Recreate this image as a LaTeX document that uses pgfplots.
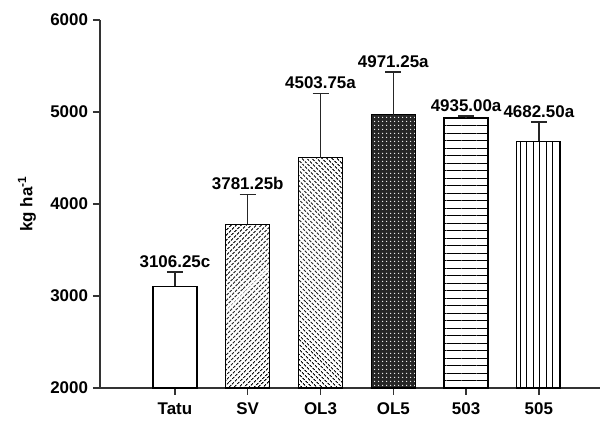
\documentclass[border=0pt]{standalone}
\usepackage{pgfplots}
\pgfplotsset{compat=1.18}
\usepackage{fontspec}
\setmainfont{Liberation Sans}
\usetikzlibrary{patterns,patterns.meta}

\newcommand{\chartfont}{\fontsize{17}{19}\selectfont\bfseries}

\pgfplotsset{
  yieldbar/.style={
    draw=black, line width=1.2bp,
    nodes near coords={\pgfmathprintnumber[fixed,fixed zerofill,precision=2]{\pgfplotspointmeta}#1},
    nodes near coords style={font=\chartfont, anchor=south, black, inner sep=2bp},
    error bars/y dir=plus,
    error bars/y explicit,
    error bars/error bar style={line width=1.4bp, black!85},
    error bars/error mark options={rotate=90, mark size=8bp, line width=1.4bp, black!85},
  },
}

\begin{document}
\begin{tikzpicture}
\useasboundingbox (-100bp,-33bp) rectangle (501bp,388bp);
\begin{axis}[
  scale only axis, width=500bp, height=368bp,
  xmin=-1.03, xmax=5.84, ymin=2000, ymax=6000,
  axis x line=bottom, axis y line=left,
  axis line style={-, line width=1.3bp, black!80},
  ytick={2000,3000,4000,5000,6000},
  xtick={0,...,5}, xticklabels={Tatu,SV,OL3,OL5,503,505},
  tick align=outside, major tick length=7bp,
  tick style={line width=1.3bp, black!80},
  /pgf/number format/assume math mode=true,
  /pgf/number format/1000 sep={},
  ticklabel style={font=\chartfont},
  xticklabel style={yshift=-4bp},
  yticklabel style={xshift=-1.5bp},
  ylabel={kg ha\textsuperscript{-1}},
  every axis y label/.style={at={(axis description cs:-0.146,0.5)}, rotate=90, anchor=center, font=\chartfont},
  ybar, bar width=44bp, bar shift=0pt,
  clip=false,
]
% Tatu
\addplot[yieldbar=c, fill=white, nodes near coords style={yshift=16bp}]
  coordinates {(0,3106.25) +- (0,155)};
% SV
\addplot[yieldbar=b, pattern={Lines[angle=45,distance=3.6bp,line width=1.2bp]}, nodes near coords style={yshift=31.5bp}]
  coordinates {(1,3781.25) +- (0,325)};
% OL3
\addplot[yieldbar=a, pattern={Lines[angle=-45,distance=3.6bp,line width=1.2bp]}, nodes near coords style={yshift=66bp}]
  coordinates {(2,4503.75) +- (0,700)};
% OL5: dark fill with white dot grid on top
\addplot[fill=black!85, draw=none] coordinates {(3,4971.25)};
\addplot[yieldbar=a, pattern={Dots[distance=3.6bp,radius=0.8bp]}, pattern color=white, nodes near coords style={yshift=44.5bp}]
  coordinates {(3,4971.25) +- (0,465)};
% 503
\addplot[yieldbar=a, pattern={Lines[angle=0,distance=7.5bp,line width=0.8bp,yshift=3bp]}, nodes near coords style={yshift=4bp}]
  coordinates {(4,4935.00) +- (0,22)};
% 505
\addplot[yieldbar=a, pattern={Lines[angle=90,distance=6.5bp,line width=0.9bp]}, nodes near coords style={yshift=21bp}]
  coordinates {(5,4682.50) +- (0,210)};
\end{axis}
\end{tikzpicture}
\end{document}
